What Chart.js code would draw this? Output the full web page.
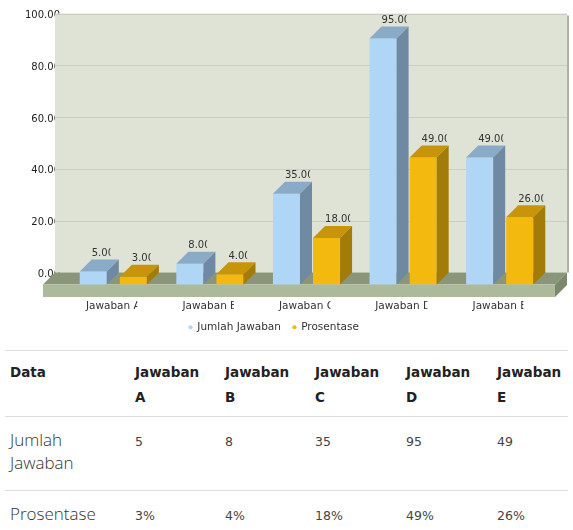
<!DOCTYPE html>
<html>
<head>
<meta charset="utf-8">
<title>Grafik Jawaban</title>
<script src="https://cdn.jsdelivr.net/npm/chart.js@4.4.0/dist/chart.umd.min.js"></script>
<style>
  body { margin: 0; background: #fff; }
  #chartBox { width: 573px; height: 350px; overflow: hidden; }
  #tabel {
    margin-left: 5px;
    width: 563px;
    border-collapse: collapse;
    table-layout: fixed;
    font-family: "DejaVu Sans", Verdana, sans-serif;
    color: #333;
  }
  #tabel th, #tabel td {
    text-align: left;
    vertical-align: top;
    border-top: 1px solid #dddddd;
    padding: 13px 5px;
    line-height: 23.5px;
  }
  #tabel th {
    font-size: 13.5px;
    font-weight: bold;
    padding: 9px 5px 6px;
    line-height: 25px;
    color: #222;
  }
  #tabel td { font-size: 12.5px; color: #444; }
  #tabel td.label {
    font-family: "Open Sans", sans-serif;
    font-weight: 300;
    font-size: 17px;
    line-height: 23px;
    padding: 11px 5px 16px;
    color: #333;
  }
</style>
</head>
<body>
<div id="chartBox"><canvas id="grafik" width="573" height="360"></canvas></div>
<table id="tabel"></table>

<script>
// ====================================================
// Data
// ====================================================
const kategori = ["Jawaban A", "Jawaban B", "Jawaban C", "Jawaban D", "Jawaban E"];
const jumlahJawaban = [5, 8, 35, 95, 49];
const prosentase = [3, 4, 18, 49, 26];
const namaSeri = ["Jumlah Jawaban", "Prosentase"];
const lebarKolom = [125, 90, 90, 91, 91, 76];

const D = 12; // kedalaman efek 3D
const FONT = "DejaVu Sans, Verdana, sans-serif";

const warnaDepan = ["#afd6f5", "#f4b90f"];
const warnaAtas = ["#8aabc8", "#c8950a"];
const warnaSisi = ["#7089a2", "#a27c08"];

// ====================================================
// Plugin untuk panel, lantai dan bar 3D
// ====================================================
const efek3D = {
  id: "efek3D",
  beforeDatasetsDraw(chart) {
    const { ctx, chartArea: ca, scales } = chart;
    const y = scales.y;
    const kiri = ca.left - 10, kanan = ca.right + 19;
    const atas = ca.top - D, dasar = ca.bottom - D;
    ctx.save();

    // panel belakang
    ctx.fillStyle = "#dee3d6";
    ctx.fillRect(kiri, atas, kanan - kiri, dasar - atas);
    ctx.fillStyle = "#afb4a7";
    ctx.fillRect(kanan, atas + 2, 2, dasar - atas - 2);

    // garis grid
    ctx.strokeStyle = "#c9cec4";
    ctx.lineWidth = 1;
    y.ticks.forEach(t => {
      if (t.value === 0) return;
      const py = Math.round(y.getPixelForValue(t.value) - D) + 0.5;
      ctx.beginPath();
      ctx.moveTo(kiri, py);
      ctx.lineTo(kanan, py);
      ctx.stroke();
    });

    // lantai
    const fl = ca.left - 22, fr = ca.right + 7, fb = ca.bottom, tebal = 12.5;
    ctx.fillStyle = "#8a9579";
    ctx.beginPath();
    ctx.moveTo(fl, fb);
    ctx.lineTo(fr, fb);
    ctx.lineTo(fr + D, fb - D);
    ctx.lineTo(fl + D, fb - D);
    ctx.closePath();
    ctx.fill();

    ctx.fillStyle = "#adb99b";
    ctx.fillRect(fl, fb, fr - fl, tebal);

    ctx.fillStyle = "#7c876b";
    ctx.beginPath();
    ctx.moveTo(fr, fb);
    ctx.lineTo(fr + D, fb - D);
    ctx.lineTo(fr + D, fb - D + tebal);
    ctx.lineTo(fr, fb + tebal);
    ctx.closePath();
    ctx.fill();

    ctx.restore();
  },

  afterDatasetsDraw(chart) {
    const { ctx } = chart;
    ctx.save();
    chart.data.datasets.forEach((ds, i) => {
      chart.getDatasetMeta(i).data.forEach((bar, j) => {
        const { x, y, base, width } = bar.getProps(["x", "y", "base", "width"], true);
        const L = x - width / 2, R = x + width / 2;

        // sisi atas
        ctx.fillStyle = warnaAtas[i];
        ctx.beginPath();
        ctx.moveTo(L, y);
        ctx.lineTo(R, y);
        ctx.lineTo(R + D, y - D);
        ctx.lineTo(L + D, y - D);
        ctx.closePath();
        ctx.fill();

        // sisi kanan
        ctx.fillStyle = warnaSisi[i];
        ctx.beginPath();
        ctx.moveTo(R, y);
        ctx.lineTo(R + D, y - D);
        ctx.lineTo(R + D, base - D);
        ctx.lineTo(R, base);
        ctx.closePath();
        ctx.fill();

        // label nilai (terpotong seperti aslinya)
        const teks = ds.data[j].toFixed(2);
        ctx.font = "10px " + FONT;
        const w = ctx.measureText(teks).width;
        const tx = L + D, ty = y - D - 1;
        ctx.save();
        ctx.beginPath();
        ctx.rect(tx - 1, ty - 14, w - 2.5, 16);
        ctx.clip();
        ctx.fillStyle = "#333";
        ctx.textAlign = "left";
        ctx.textBaseline = "bottom";
        ctx.fillText(teks, tx, ty);
        ctx.restore();
      });
    });
    ctx.restore();
  },

  afterDraw(chart) {
    // label kategori, juga terpotong sedikit di kanan
    const { ctx, chartArea: ca, scales } = chart;
    const xs = scales.x;
    ctx.save();
    ctx.font = "10.5px " + FONT;
    ctx.fillStyle = "#333";
    ctx.textAlign = "center";
    ctx.textBaseline = "middle";
    chart.data.labels.forEach((lbl, i) => {
      const px = xs.getPixelForTick(i);
      const w = ctx.measureText(lbl).width;
      ctx.save();
      ctx.beginPath();
      ctx.rect(px - w / 2 - 1, ca.bottom + 13, w - 2.5, 16);
      ctx.clip();
      ctx.fillText(lbl, px, ca.bottom + 21.5);
      ctx.restore();
    });
    ctx.restore();
  }
};

// ====================================================
// Grafik
// ====================================================
new Chart(document.getElementById("grafik"), {
  type: "bar",
  data: {
    labels: kategori,
    datasets: [jumlahJawaban, prosentase].map((data, i) => ({
      label: namaSeri[i],
      data,
      backgroundColor: warnaDepan[i],
      borderWidth: 0,
      categoryPercentage: 0.83,
      barPercentage: 0.675,
    })),
  },
  options: {
    responsive: false,
    animation: false,
    layout: { padding: { top: 25.5, right: 25, bottom: 17.5, left: 0 } },
    scales: {
      x: {
        grid: { display: false, drawTicks: false },
        border: { display: false },
        ticks: { color: "rgba(0,0,0,0)", font: { family: FONT, size: 10.5 } },
        afterFit: s => { s.height = 25.5; },
      },
      y: {
        min: 0,
        max: 100,
        grid: { display: false, drawTicks: false },
        border: { display: false },
        ticks: {
          stepSize: 20,
          padding: 5,
          labelOffset: -10,
          color: "#222",
          font: { family: FONT, size: 10 },
          callback: v => v.toFixed(2),
        },
        afterFit: s => { s.width = 65; },
      },
    },
    plugins: {
      legend: {
        position: "bottom",
        labels: {
          usePointStyle: true,
          pointStyle: "circle",
          boxWidth: 3,
          boxHeight: 3,
          padding: 12,
          color: "#333",
          font: { family: FONT, size: 10.5 },
        },
      },
      tooltip: { enabled: false },
    },
  },
  plugins: [efek3D],
});

// ====================================================
// Tabel data
// ====================================================
const tabel = document.getElementById("tabel");
let html = "<colgroup>" + lebarKolom.map(w => `<col style="width:${w}px">`).join("") + "</colgroup>";
html += "<tr><th>Data</th>" + kategori.map(k => `<th>${k.replace(" ", "<br>")}</th>`).join("") + "</tr>";
html += `<tr><td class="label">${namaSeri[0]}</td>` + jumlahJawaban.map(v => `<td>${v}</td>`).join("") + "</tr>";
html += `<tr><td class="label">${namaSeri[1]}</td>` + prosentase.map(v => `<td>${v}%</td>`).join("") + "</tr>";
tabel.innerHTML = html;
</script>
</body>
</html>
